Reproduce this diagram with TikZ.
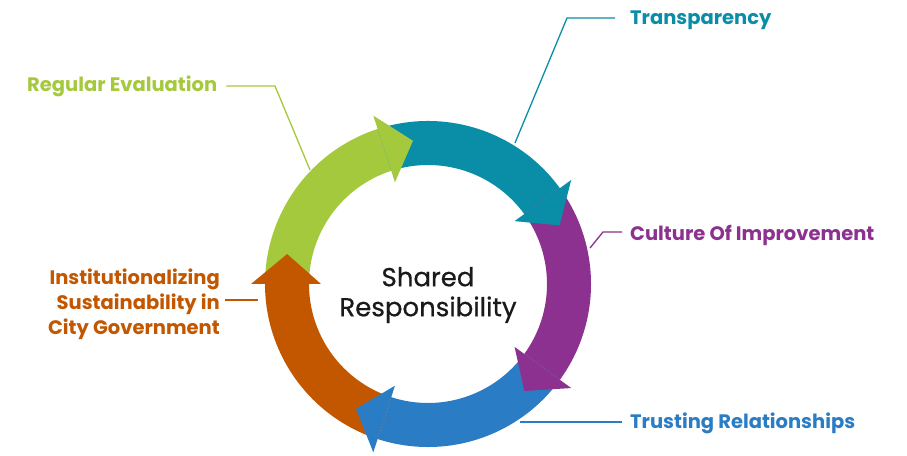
\documentclass[tikz,border=0pt]{standalone}
\usepackage{fontspec}
\setmainfont{Poppins}
\newfontfamily\medfont{Poppins}[FakeBold=0.6]
\definecolor{cgreen}{HTML}{A5C93C}
\definecolor{cteal}{HTML}{0A8EA8}
\definecolor{cpurple}{HTML}{8D3190}
\definecolor{cblue}{HTML}{2A7CC4}
\definecolor{corange}{HTML}{C25700}
\definecolor{ctext}{HTML}{1A1A1A}
\begin{document}
\begin{tikzpicture}[x=1pt,y=1pt,
  lbl/.style={font=\bfseries\fontsize{19.5}{25}\selectfont, inner sep=0pt},
  leader/.style={line width=1.3pt},
]
\useasboundingbox (0,0) rectangle (907,455);
\fill[white] (0,0) rectangle (907,455);
\begin{scope}[shift={(428,171)}]
  % bodies
  \fill[cgreen]  (180:163) arc[start angle=180,end angle=108,radius=163] -- (108:119) arc[start angle=108,end angle=180,radius=119] -- cycle;
  \fill[cteal]   (108:163) arc[start angle=108,end angle=36,radius=163] -- (36:119) arc[start angle=36,end angle=108,radius=119] -- cycle;
  \fill[cpurple] (36:163) arc[start angle=36,end angle=-36,radius=163] -- (-36:119) arc[start angle=-36,end angle=36,radius=119] -- cycle;
  \fill[cblue]   (-36:163) arc[start angle=-36,end angle=-108,radius=163] -- (-108:119) arc[start angle=-108,end angle=-36,radius=119] -- cycle;
  \fill[corange] (-108:163) arc[start angle=-108,end angle=-180,radius=163] -- (-180:119) arc[start angle=-180,end angle=-108,radius=119] -- cycle;
  % heads
  \fill[cgreen]  (108:107) -- (108:177) -- (96:144) -- cycle;
  \fill[cteal]   (36:107) -- (36:177) -- (24:144) -- cycle;
  \fill[cpurple] (-36:107) -- (-36:177) -- (-48:144) -- cycle;
  \fill[cblue]   (-108:107) -- (-108:177) -- (-120:144) -- cycle;
  \fill[corange] (180:107) -- (180:177) -- (168:144) -- cycle;
\end{scope}

\node[font=\medfont\fontsize{26}{30}\selectfont, text=ctext, align=center] (center) at (428,160) {Shared\\Responsibility};

\node[lbl, text=cgreen, anchor=west] (re) at (27,369) {Regular Evaluation};
\node[lbl, text=cteal, anchor=west] (tr) at (630,435) {Transparency};
\node[lbl, text=cpurple, anchor=west] (cu) at (630,220) {Culture Of Improvement};
\node[lbl, text=cblue, anchor=west] (ts) at (630,32) {Trusting Relationships};
\node[lbl, text=corange, anchor=east, align=right] (in) at (220,151) {Institutionalizing\\Sustainability in\\City Government};

\coordinate (reA) at (275,369);
\coordinate (reB) at (310,285);
\coordinate (trA) at (567,437);
\coordinate (trB) at (515,312);
\coordinate (cuA) at (603,223);
\coordinate (cuB) at (590,207);
\coordinate (tsB) at (520,33);
\coordinate (inB) at (258,155);

\draw[leader, cgreen] ([xshift=9pt,yshift=0pt]re.east) -- (reA) -- (reB);
\draw[leader, cteal] ([xshift=-15pt,yshift=2pt]tr.west) -- (trA) -- (trB);
\draw[leader, cpurple] ([xshift=-8pt,yshift=3pt]cu.west) -- (cuA) -- (cuB);
\draw[leader, cblue] ([xshift=-8pt,yshift=1pt]ts.west) -- (tsB);
\draw[leader, corange] ([xshift=5pt,yshift=4pt]in.east) -- (inB);
\end{tikzpicture}
\end{document}
